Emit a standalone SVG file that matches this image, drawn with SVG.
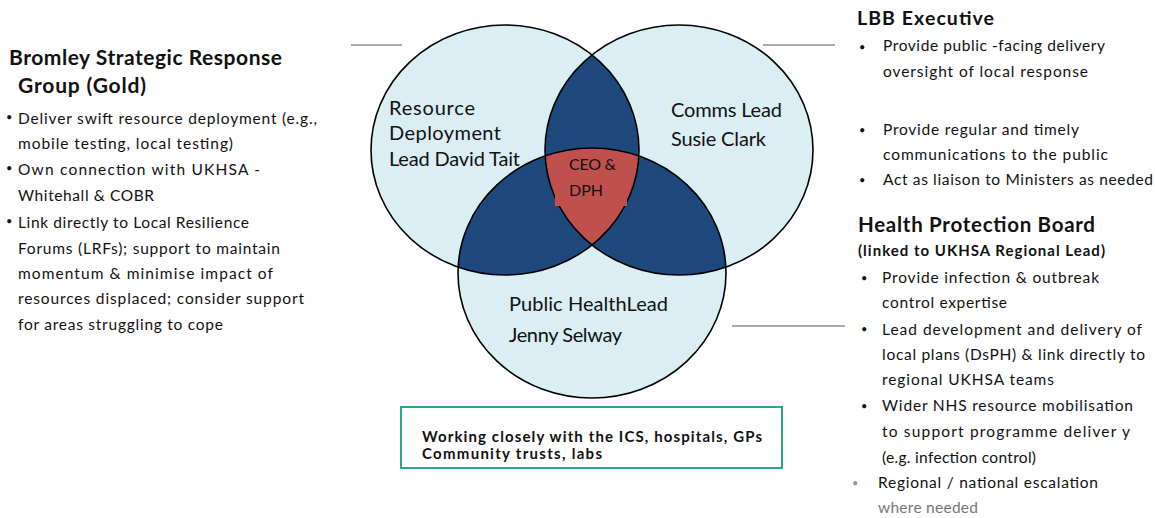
<svg xmlns="http://www.w3.org/2000/svg" width="1155" height="518" viewBox="0 0 1155 518">
<style>
text{font-family:Lato,"Liberation Sans",sans-serif;fill:#111111}
.h{font-weight:bold;font-size:21px}
.b{font-size:15.5px}
.r{font-size:15.5px}
.bul{font-size:11px}
.v{font-size:20px}
.bx{font-weight:bold;font-size:15px}
.lead{stroke:#aaaaaa;stroke-width:2}
.ring{fill:none;stroke:#000;stroke-width:1.6}
</style>
<defs>
<ellipse id="eL" cx="505" cy="150" rx="134" ry="125"/>
<ellipse id="eR" cx="679" cy="150" rx="134" ry="125"/>
<ellipse id="eB" cx="592" cy="273" rx="134" ry="125"/>
<clipPath id="cL"><use href="#eL"/></clipPath>
<clipPath id="cR"><use href="#eR"/></clipPath>
</defs>
<rect width="1155" height="518" fill="#ffffff"/>

<g id="connectors">
<line class="lead" x1="351" y1="45" x2="402" y2="45"/>
<line class="lead" x1="763" y1="45" x2="835" y2="45"/>
<line class="lead" x1="732" y1="326" x2="845" y2="326"/>
</g>

<g id="venn">
<use href="#eL" fill="#dbeef4"/>
<use href="#eR" fill="#dbeef4"/>
<use href="#eB" fill="#dbeef4"/>
<use href="#eR" fill="#1f497d" clip-path="url(#cL)"/>
<use href="#eB" fill="#1f497d" clip-path="url(#cL)"/>
<use href="#eB" fill="#1f497d" clip-path="url(#cR)"/>
<g clip-path="url(#cL)"><use href="#eB" fill="#c0504d" clip-path="url(#cR)"/></g>
<use href="#eL" class="ring"/>
<use href="#eR" class="ring"/>
<use href="#eB" class="ring"/>
</g>

<g id="node-resource">
<text class="v" x="389" y="115" textLength="86">Resource</text>
<text class="v" x="389" y="140" textLength="112">Deployment</text>
<text class="v" x="389" y="166" textLength="131">Lead David Tait</text>
</g>
<g id="node-comms">
<text class="v" x="671" y="117" textLength="111">Comms Lead</text>
<text class="v" x="671" y="146" textLength="95">Susie Clark</text>
</g>
<g id="node-public-health">
<text class="v" x="509" y="311" textLength="159">Public HealthLead</text>
<text class="v" x="509" y="342" textLength="113">Jenny Selway</text>
</g>
<g id="node-ceo">
<rect x="555" y="157" width="72" height="49" fill="#c0504d"/>
<text x="569" y="170" font-size="16" textLength="47">CEO &amp;</text>
<text x="569" y="196" font-size="16" textLength="34">DPH</text>
</g>

<g id="node-gold">
<text class="h" x="9" y="65" textLength="273">Bromley Strategic Response</text>
<text class="h" x="18" y="93" textLength="128">Group (Gold)</text>
<text class="bul" x="6" y="121">•</text>
<text class="b" x="18" y="124" textLength="299">Deliver  swift resource  deployment  (e.g.,</text>
<text class="b" x="18" y="149" textLength="215">mobile testing,  local testing)</text>
<text class="bul" x="6" y="172">•</text>
<text class="b" x="18" y="175" textLength="242">Own  connection with  UKHSA   -</text>
<text class="b" x="18" y="201" textLength="136">Whitehall  &amp; COBR</text>
<text class="bul" x="6" y="225">•</text>
<text class="b" x="18" y="228" textLength="231">Link directly  to Local  Resilience</text>
<text class="b" x="18" y="254" textLength="262">Forums  (LRFs); support to maintain</text>
<text class="b" x="18" y="279" textLength="255">momentum  &amp; minimise  impact of</text>
<text class="b" x="18" y="304" textLength="286">resources  displaced; consider  support</text>
<text class="b" x="18" y="330" textLength="205">for areas  struggling to cope</text>
</g>

<g id="node-lbb">
<text class="h" x="857" y="25" style="font-size:19.5px" textLength="137">LBB Executive</text>
<text class="bul" x="859" y="51">•</text>
<text class="r" x="883" y="51" textLength="222">Provide public -facing delivery</text>
<text class="r" x="883" y="77" textLength="205">oversight of  local response</text>
<text class="bul" x="859" y="134">•</text>
<text class="r" x="883" y="135" textLength="196">Provide regular  and timely</text>
<text class="r" x="883" y="160" textLength="225">communications  to the public</text>
<text class="bul" x="859" y="184">•</text>
<text class="r" x="883" y="185" textLength="270">Act as liaison to Ministers  as needed</text>
</g>

<g id="node-hpb">
<text class="h" x="858" y="232" style="font-size:20.5px" textLength="237">Health Protection Board</text>
<text x="858" y="256" font-weight="bold" font-size="15" textLength="247">(linked to UKHSA Regional  Lead)</text>
<text class="bul" x="861" y="282">•</text>
<text class="r" x="882" y="283" textLength="217">Provide infection  &amp; outbreak</text>
<text class="r" x="882" y="308" textLength="125">control expertise</text>
<text class="bul" x="861" y="333">•</text>
<text class="r" x="882" y="335" textLength="260">Lead development  and delivery of</text>
<text class="r" x="882" y="360" textLength="263">local plans (DsPH) &amp; link directly to</text>
<text class="r" x="882" y="385" textLength="172">regional  UKHSA  teams</text>
<text class="bul" x="861" y="410">•</text>
<text class="r" x="882" y="411" textLength="251">Wider NHS resource mobilisation</text>
<text class="r" x="882" y="437" textLength="248">to support programme  deliver  y</text>
<text class="r" x="882" y="463" textLength="154">(e.g.  infection control)</text>
<text class="bul" x="852" y="487" style="fill:#999">•</text>
<text class="r" x="878" y="488" textLength="220">Regional  /  national  escalation</text>
<text class="r" x="878" y="513" style="fill:#777" textLength="100">where  needed</text>
</g>

<g id="node-partners">
<rect x="401" y="407" width="381" height="61" fill="#ffffff" stroke="#2aa88a" stroke-width="2"/>
<text class="bx" x="422" y="442" textLength="340">Working  closely with the ICS,  hospitals, GPs</text>
<text class="bx" x="422" y="459" textLength="180">Community  trusts, labs</text>
</g>
</svg>
